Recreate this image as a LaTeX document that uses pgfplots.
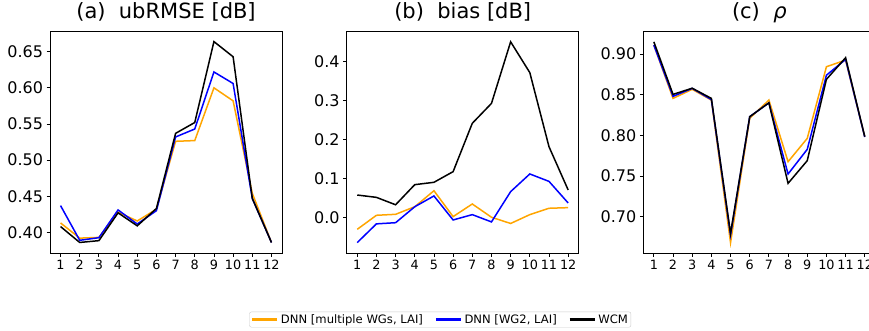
\documentclass[border=0pt]{standalone}
\usepackage{pgfplots}
\pgfplotsset{compat=1.18}
\usepackage{fontspec}
\setmainfont{DejaVu Sans}
\definecolor{mplorange}{HTML}{FFA500}
\definecolor{mplblue}{HTML}{0000FF}

\pgfplotstableread{
m   o      b      k
1   0.413  0.437  0.408
2   0.392  0.389  0.386
3   0.393  0.3926 0.3885
4   0.428  0.431  0.427
5   0.4157 0.4115 0.409
6   0.432  0.430  0.433
7   0.526  0.532  0.537
8   0.527  0.543  0.552
9   0.600  0.622  0.664
10  0.582  0.606  0.643
11  0.454  0.447  0.447
12  0.386  0.386  0.386
}\ubrmse

\pgfplotstableread{
m   o       b       k
1   -0.030  -0.064  0.058
2   0.006   -0.016  0.052
3   0.0085  -0.013  0.033
4   0.028   0.028   0.0846
5   0.069   0.0556  0.0906
6   0.0026  -0.006  0.118
7   0.035   0.0077  0.242
8   0.001   -0.011  0.293
9   -0.015  0.0667  0.451
10  0.0077  0.112   0.372
11  0.024   0.093   0.182
12  0.0256  0.0376  0.071
}\bias

\pgfplotstableread{
m   o       b       k
1   0.911   0.911   0.915
2   0.8455  0.848   0.8504
3   0.8566  0.8578  0.858
4   0.8434  0.844   0.8455
5   0.668   0.6775  0.6795
6   0.821   0.823   0.823
7   0.8434  0.840   0.840
8   0.7676  0.7525  0.741
9   0.7963  0.7828  0.7689
10  0.8844  0.874   0.8689
11  0.8926  0.8934  0.8955
12  0.7984  0.798   0.7984
}\rho

\pgfplotsset{
  panel/.style={
    scale only axis, width=232pt, height=221.6pt, anchor=south west,
    axis line style={black, line width=0.8pt},
    tick pos=left, tick align=outside, major tick length=3.5pt,
    every tick/.style={black, line width=0.8pt},
    xmin=0.45, xmax=12.55, xtick={1,...,12},
    /pgf/number format/assume math mode=true,
    xticklabel style={font=\fontsize{12.8}{14}\selectfont},
    yticklabel style={font=\fontsize{16}{18}\selectfont},
    title style={at={(0.5,1)}, anchor=base, yshift=7.5pt, font=\fontsize{21}{24}\selectfont},
    every axis plot/.append style={line width=1.5pt},
    legend image code/.code={\draw[#1, line width=3.5pt] (0pt,0pt) -- (25pt,0pt);},
  }
}

\begin{document}
\begin{tikzpicture}
\useasboundingbox (0,0) rectangle (869pt,331pt);
\begin{axis}[panel, at={(50pt,77.7pt)},
  ymin=0.371, ymax=0.6777, ytick={0.40,0.45,...,0.66},
  yticklabel style={/pgf/number format/.cd, fixed, fixed zerofill, precision=2},
  title={(a)\ \ ubRMSE [dB]}]
\addplot[mplorange] table[x=m,y=o] {\ubrmse};
\addplot[mplblue] table[x=m,y=b] {\ubrmse};
\addplot[black] table[x=m,y=k] {\ubrmse};
\end{axis}
\begin{axis}[panel, at={(346.7pt,77.7pt)},
  ymin=-0.0915, ymax=0.477, ytick={0,0.1,0.2,0.3,0.4},
  yticklabel style={/pgf/number format/.cd, fixed, fixed zerofill, precision=1},
  title={(b)\ \ bias [dB]},
  legend columns=3,
  legend style={at={(0.403,-0.299)}, anchor=center, draw=black!20, rounded corners=2pt,
    font=\fontsize{11.6}{13}\selectfont, inner xsep=1pt, inner ysep=0.5pt,
    /tikz/every even column/.append style={column sep=9pt}},
  legend cell align=left]
\addplot[mplorange] table[x=m,y=o] {\bias};
\addlegendentry{DNN [multiple WGs, LAI]}
\addplot[mplblue] table[x=m,y=b] {\bias};
\addlegendentry{DNN [WG2, LAI]}
\addplot[black] table[x=m,y=k] {\bias};
\addlegendentry{WCM}
\end{axis}
\begin{axis}[panel, at={(643.3pt,77.7pt)},
  ymin=0.655, ymax=0.9275, ytick={0.70,0.75,...,0.91},
  yticklabel style={/pgf/number format/.cd, fixed, fixed zerofill, precision=2},
  title={(c)\ \ \textit{ρ}}]
\addplot[mplorange] table[x=m,y=o] {\rho};
\addplot[mplblue] table[x=m,y=b] {\rho};
\addplot[black] table[x=m,y=k] {\rho};
\end{axis}
\end{tikzpicture}
\end{document}
